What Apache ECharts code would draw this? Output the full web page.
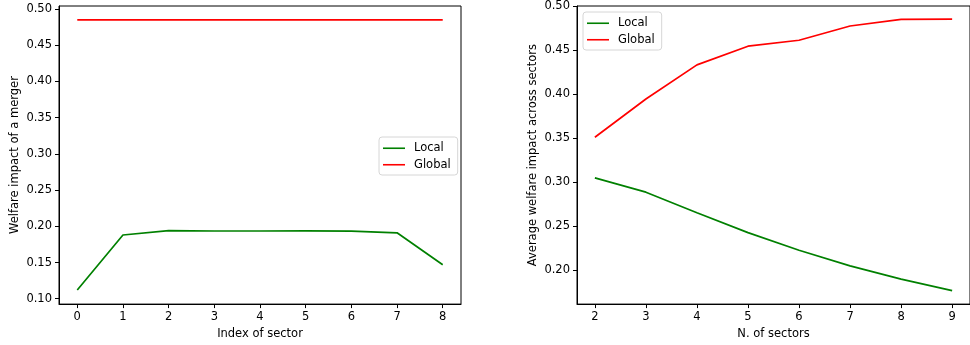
<!DOCTYPE html>
<html>
<head>
<meta charset="utf-8">
<script src="https://cdn.jsdelivr.net/npm/echarts@6/dist/echarts.min.js"></script>
<style>html,body{margin:0;padding:0;background:#fff}#c{width:970px;height:345px}</style>
</head>
<body>
<div id="c"></div>
<script>
// Left panel: welfare impact of a merger by sector index
const sectorIndex = [0, 1, 2, 3, 4, 5, 6, 7, 8];
const leftLocal  = [0.112, 0.188, 0.194, 0.1935, 0.1935, 0.1937, 0.1933, 0.191, 0.147];
const leftGlobal = [0.485, 0.485, 0.485, 0.485, 0.485, 0.485, 0.485, 0.485, 0.485];
const leftYTicks = [0.10, 0.15, 0.20, 0.25, 0.30, 0.35, 0.40, 0.45, 0.50];

// Right panel: average welfare impact across sectors by number of sectors
const nSectors = [2, 3, 4, 5, 6, 7, 8, 9];
const rightLocal  = [0.305, 0.2888, 0.2655, 0.2428, 0.2228, 0.205, 0.19, 0.177];
const rightGlobal = [0.3512, 0.3947, 0.4335, 0.4547, 0.4615, 0.4777, 0.4853, 0.4855];
const rightYTicks = [0.20, 0.25, 0.30, 0.35, 0.40, 0.45, 0.50];

const seriesNames = ['Local', 'Global'];
const colors = { Local: '#008000', Global: '#ff0000' };

const FONT = 'DejaVu Sans';
const pairs = (xs, ys) => xs.map((x, i) => [x, ys[i]]);

function xAxis(gi, min, max, ticks, name) {
  return {
    type: 'value', gridIndex: gi, min, max,
    name, nameLocation: 'middle', nameGap: 22,
    nameTextStyle: { color: '#000', fontSize: 11.5, fontFamily: FONT },
    axisLine: { show: true, onZero: false, lineStyle: { color: '#000', width: 1 } },
    axisTick: { show: true, length: 4, customValues: ticks, lineStyle: { color: '#000' } },
    axisLabel: { customValues: ticks, color: '#000', fontSize: 11.5, fontFamily: FONT, margin: 7,
                 formatter: v => String(Math.round(v)) },
    splitLine: { show: false }
  };
}
function yAxis(gi, min, max, ticks, name) {
  return {
    type: 'value', gridIndex: gi, min, max,
    name, nameLocation: 'middle', nameGap: 38,
    nameTextStyle: { color: '#000', fontSize: 11.5, fontFamily: FONT },
    axisLine: { show: true, onZero: false, lineStyle: { color: '#000', width: 1 } },
    axisTick: { show: true, length: 4, customValues: ticks, lineStyle: { color: '#000' } },
    axisLabel: { customValues: ticks, color: '#000', fontSize: 11.5, fontFamily: FONT, margin: 7,
                 formatter: v => v.toFixed(2) },
    splitLine: { show: false }
  };
}
function legend(left, top) {
  return {
    orient: 'vertical', left, top,
    data: seriesNames.map(n => ({ name: n, icon: 'rect' })),
    itemWidth: 22, itemHeight: 1.6, itemGap: 4,
    padding: [5, 7, 4, 4],
    backgroundColor: '#fff', borderColor: '#d6d6d6', borderWidth: 1, borderRadius: 3,
    textStyle: { color: '#000', fontSize: 11.5, fontFamily: FONT, lineHeight: 12.5, padding: [0, 0, 0, 4] },
    selectedMode: false
  };
}
function line(name, gi, xs, ys) {
  return {
    type: 'line', name, xAxisIndex: gi, yAxisIndex: gi,
    data: pairs(xs, ys), showSymbol: false, symbol: 'none',
    lineStyle: { color: colors[name], width: 1.7 }, itemStyle: { color: colors[name] },
    animation: false
  };
}

const chart = echarts.init(document.getElementById('c'), null, { renderer: 'canvas' });
chart.setOption({
  animation: false,
  grid: [
    { left: 59, right: 509, top: 6, bottom: 34, show: true, borderColor: '#000', borderWidth: 1 },
    { left: 577, right: -10, top: 6, bottom: 34, show: true, borderColor: '#000', borderWidth: 1 }
  ],
  xAxis: [
    xAxis(0, -0.4, 8.4, sectorIndex, 'Index of sector'),
    xAxis(1, 1.65, 9.35, nSectors, 'N. of sectors')
  ],
  yAxis: [
    yAxis(0, 0.0926, 0.5041, leftYTicks, 'Welfare impact of a merger'),
    yAxis(1, 0.1616, 0.5004, rightYTicks, 'Average welfare impact across sectors')
  ],
  legend: [legend(379, 137), legend(583, 12)],
  series: [
    line('Local', 0, sectorIndex, leftLocal),
    line('Global', 0, sectorIndex, leftGlobal),
    line('Local', 1, nSectors, rightLocal),
    line('Global', 1, nSectors, rightGlobal)
  ]
});
</script>
</body>
</html>
